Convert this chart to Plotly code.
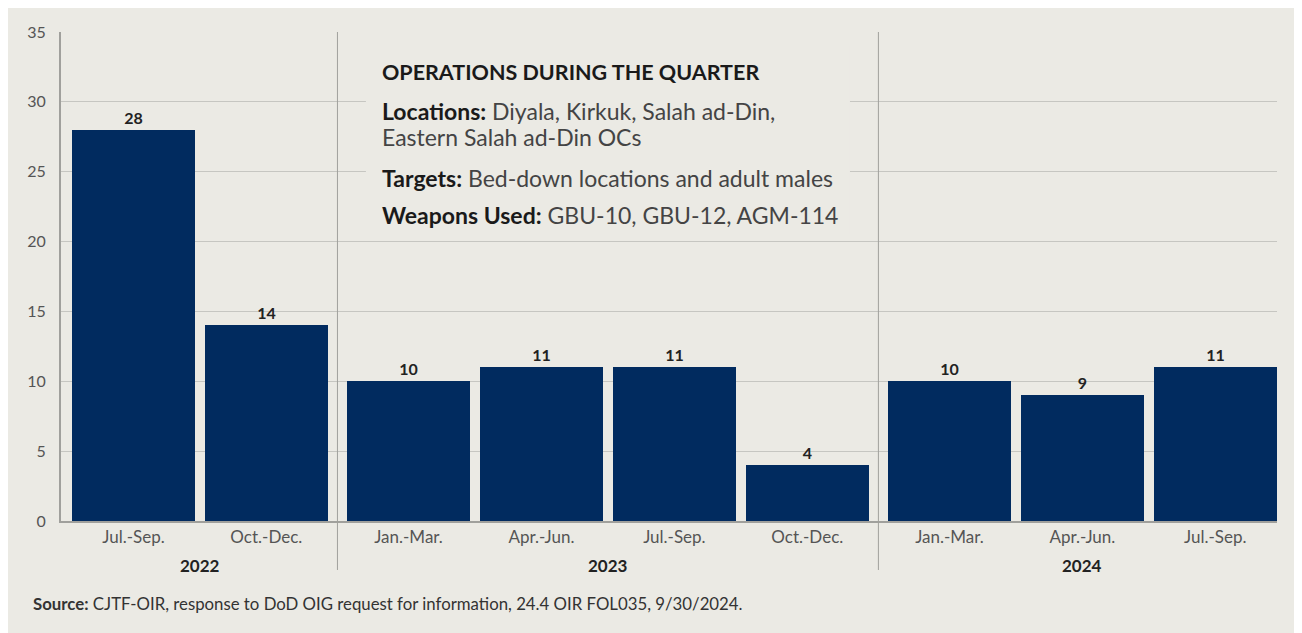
import plotly.graph_objects as go

# ---- data ----
quarters = ["Jul.-Sep.", "Oct.-Dec.", "Jan.-Mar.", "Apr.-Jun.", "Jul.-Sep.", "Oct.-Dec.",
            "Jan.-Mar.", "Apr.-Jun.", "Jul.-Sep."]
years = ["2022", "2022", "2023", "2023", "2023", "2023", "2024", "2024", "2024"]
strikes = [28, 14, 10, 11, 11, 4, 10, 9, 11]
year_labels = ["2022", "2023", "2024"]

box_title = "OPERATIONS DURING THE QUARTER"
box_lines = [
    ("Locations:", " Diyala, Kirkuk, Salah ad-Din,"),
    ("", "Eastern Salah ad-Din OCs"),
    ("Targets:", " Bed-down locations and adult males"),
    ("Weapons Used:", " GBU-10, GBU-12, AGM-114"),
]
source_label = "Source:"
source_text = " CJTF-OIR, response to DoD OIG request for information, 24.4 OIR FOL035, 9/30/2024."

# ---- layout helpers ----
GROUP_GAP = 0.07
FONT = "Source Sans Pro, Lato, sans-serif"
BAR = "#012B5F"
BG = "#EBEAE4"

xpos = []
g = -1
prev = None
for i, yr in enumerate(years):
    if yr != prev:
        g += 1
        prev = yr
    xpos.append(i + GROUP_GAP * g)

group_centers = []
seps = []
for yl in year_labels:
    idx = [i for i, y in enumerate(years) if y == yl]
    group_centers.append((xpos[idx[0]] + xpos[idx[-1]]) / 2)
for k in range(len(year_labels) - 1):
    last = max(i for i, y in enumerate(years) if y == year_labels[k])
    seps.append((xpos[last] + xpos[last + 1]) / 2)

fig = go.Figure()
fig.add_trace(go.Bar(
    x=xpos, y=strikes, width=0.925,
    marker=dict(color=BAR, line=dict(width=0)),
    text=strikes, texttemplate="<b>%{text}</b>", textposition="outside",
    textfont=dict(family=FONT, size=16, color="#222222"),
    cliponaxis=False, hoverinfo="skip",
))

shapes = []
# group separators
for s in seps:
    shapes.append(dict(type="line", xref="x", yref="paper", x0=s, x1=s,
                       y0=-0.1002, y1=1, line=dict(color="#A0A09C", width=1), layer="above"))
# text box background
shapes.append(dict(type="rect", xref="x", yref="y", x0=1.749, x1=5.391, y0=20.5, y1=34.0,
                   fillcolor=BG, line=dict(width=0), layer="between"))

annotations = []
annotations.append(dict(xref="x", yref="y", x=1.855, y=32.14, xanchor="left", yanchor="middle",
                        text="<b>" + box_title + "</b>", showarrow=False,
                        font=dict(family=FONT, size=21.5, color="#1a1a1a")))
line_y = [29.35, 27.49, 24.55, 21.9]
for (lab, rest), yy in zip(box_lines, line_y):
    txt = ("<b>" + lab + "</b>" if lab else "") + "<span style='color:#444444'>" + rest + "</span>"
    annotations.append(dict(xref="x", yref="y", x=1.855, y=yy, xanchor="left", yanchor="middle",
                            text=txt, showarrow=False,
                            font=dict(family=FONT, size=23, color="#1a1a1a")))
for yl, c in zip(year_labels, group_centers):
    annotations.append(dict(xref="x", yref="paper", x=c, y=(521 - 565) / 489,
                            xanchor="center", yanchor="middle", text="<b>" + yl + "</b>",
                            showarrow=False, font=dict(family=FONT, size=17, color="#222222")))
annotations.append(dict(xref="paper", yref="paper", x=(31 - 61) / 1216, y=(521 - 603) / 489,
                        xanchor="left", yanchor="middle",
                        text="<b>" + source_label + "</b>" + source_text, showarrow=False,
                        font=dict(family=FONT, size=16.8, color="#333333")))

# page body adds an 8px offset, so the figure is 8px smaller and margins are shifted
fig.update_layout(
    width=1294, height=625,
    margin=dict(l=53, r=25, t=24, b=112),
    paper_bgcolor=BG, plot_bgcolor="rgba(0,0,0,0)",
    showlegend=False, bargap=0,
    shapes=shapes, annotations=annotations,
    font=dict(family=FONT),
)
fig.update_xaxes(range=[-0.545, 8.604], tickvals=xpos, ticktext=quarters,
                 showgrid=False, zeroline=False, showline=True, linecolor="#A0A09C", linewidth=2,
                 ticks="", tickfont=dict(family=FONT, size=17, color="#555555"))
fig.update_yaxes(range=[0, 35], dtick=5, showgrid=True, gridcolor="#C6C6C1", gridwidth=1,
                 zeroline=False, showline=True, linecolor="#A0A09C", linewidth=2,
                 ticks="", ticklabelstandoff=10,
                 tickfont=dict(family=FONT, size=16, color="#555555"))

fig.write_html("out.html")
